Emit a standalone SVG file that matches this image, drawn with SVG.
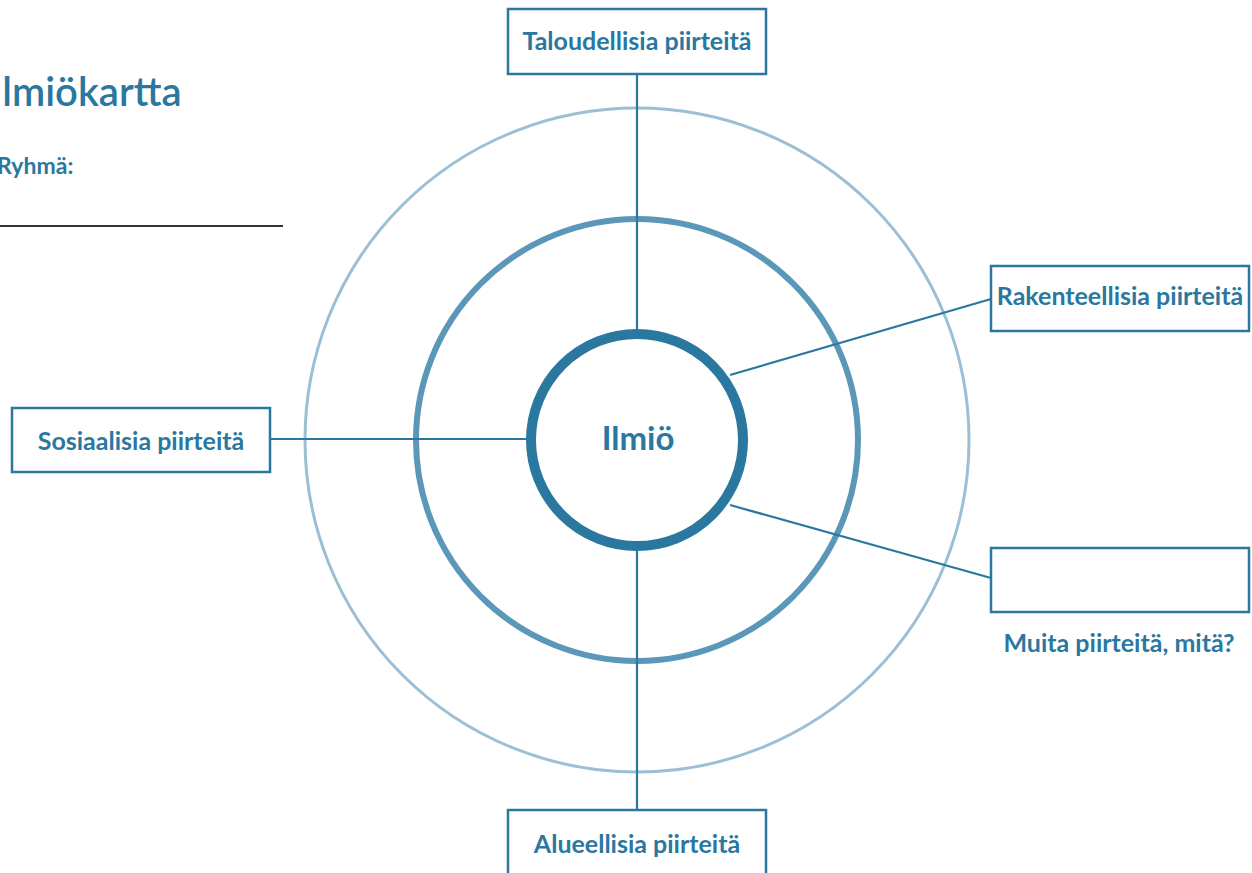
<svg xmlns="http://www.w3.org/2000/svg" width="1252" height="873" viewBox="0 0 1252 873">
<style>
.t{font-family:Lato,"Noto Sans",sans-serif;font-weight:bold;fill:#2a77a0}
.box{fill:#fff;stroke:#2a77a0;stroke-width:2.5}
.lbl{font-size:25px;text-anchor:middle}
.ln{stroke:#2a77a0;stroke-width:2.2;fill:none}
</style>
<rect width="1252" height="873" fill="#fff"/>
<g id="header">
<text class="t" x="-9" y="106" font-size="40" style="font-weight:600">Ilmiökartta</text>
<text class="t" x="-3" y="174" font-size="23">Ryhmä:</text>
<line x1="0" y1="226" x2="283" y2="226" stroke="#333" stroke-width="2"/>
</g>
<g id="rings">
<circle cx="637" cy="440" r="332" fill="none" stroke="#9bbfd4" stroke-width="3"/>
<circle cx="637" cy="440" r="221" fill="none" stroke="#5b97b9" stroke-width="6"/>
</g>
<g id="connectors">
<line class="ln" x1="637" y1="74" x2="637" y2="330"/>
<line class="ln" x1="637" y1="550" x2="637" y2="810"/>
<line class="ln" x1="270" y1="439" x2="530" y2="439"/>
<line class="ln" x1="730" y1="375" x2="991" y2="299"/>
<line class="ln" x1="730" y1="505" x2="991" y2="578"/>
</g>
<g id="center">
<circle cx="637" cy="440" r="106" fill="#fff" stroke="#2a77a0" stroke-width="10"/>
<text class="t" x="638" y="450" font-size="33" text-anchor="middle">Ilmiö</text>
</g>
<g id="taloudellisia">
<rect class="box" x="508" y="9" width="258" height="65"/>
<text class="t lbl" x="637" y="50">Taloudellisia piirteitä</text>
</g>
<g id="rakenteellisia">
<rect class="box" x="991" y="266" width="258" height="65"/>
<text class="t lbl" x="1120" y="305">Rakenteellisia piirteitä</text>
</g>
<g id="muita">
<rect class="box" x="991" y="548" width="258" height="64"/>
<text class="t lbl" x="1119" y="652">Muita piirteitä, mitä?</text>
</g>
<g id="alueellisia">
<rect class="box" x="508" y="810" width="258" height="75"/>
<text class="t lbl" x="637" y="853">Alueellisia piirteitä</text>
</g>
<g id="sosiaalisia">
<rect class="box" x="12" y="408" width="258" height="64"/>
<text class="t lbl" x="141" y="450">Sosiaalisia piirteitä</text>
</g>
</svg>
